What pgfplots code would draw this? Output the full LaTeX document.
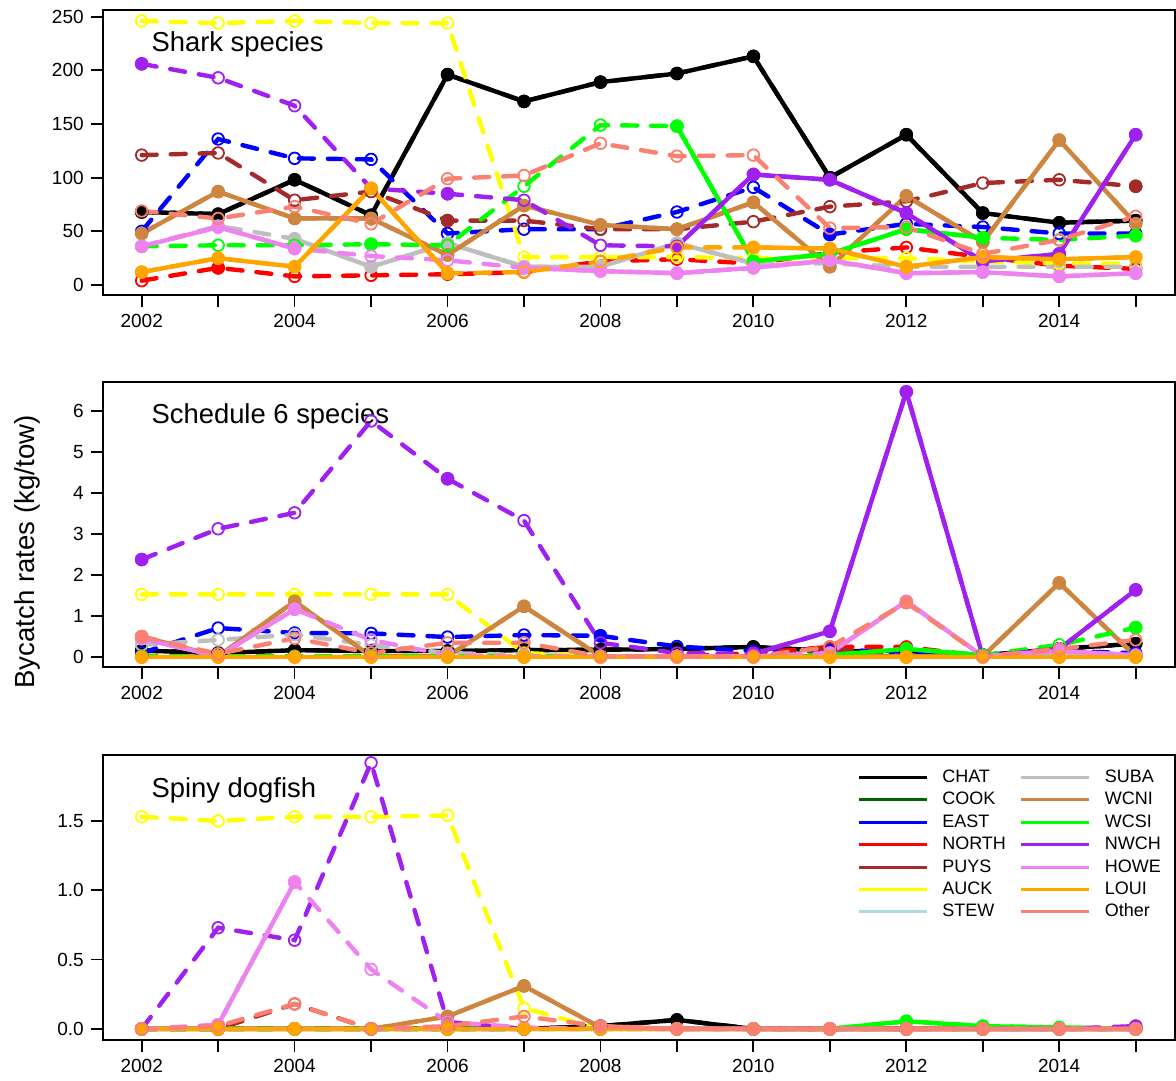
\documentclass[border=0pt]{standalone}
\usepackage{fontspec}
\setmainfont{Liberation Sans}
\usepackage{pgfplots}
\usepackage{pgfplotstable}
\pgfplotsset{compat=1.18}

\definecolor{cCHAT}{HTML}{000000}
\definecolor{cCOOK}{HTML}{006400}
\definecolor{cEAST}{HTML}{0000FF}
\definecolor{cNORTH}{HTML}{FF0000}
\definecolor{cPUYS}{HTML}{A52A2A}
\definecolor{cAUCK}{HTML}{FFFF00}
\definecolor{cSTEW}{HTML}{ADD8E6}
\definecolor{cSUBA}{HTML}{BEBEBE}
\definecolor{cWCNI}{HTML}{CD853F}
\definecolor{cWCSI}{HTML}{00FF00}
\definecolor{cNWCH}{HTML}{A020F0}
\definecolor{cHOWE}{HTML}{EE82EE}
\definecolor{cLOUI}{HTML}{FFA500}
\definecolor{cOther}{HTML}{FA8072}

% all rates (dashed line, open points)
\pgfplotstableread{
yr   CHAT EAST NORTH PUYS AUCK SUBA WCNI WCSI NWCH HOWE LOUI Other
2002  68   50   4    121  246  36   48   36   206  36   12   69
2003  66   136  16   123  244  55   87   37   193  54   25   62
2004  98   118  8    79   246  43   62   37   167  34   17   73
2005  65   117  9    87   244  17   62   38   90   27   90   57
2006  196  48   10   60   244  39   28   37   85   23   11   99
2007  171  52   12   60   26   17   74   92   79   16   12   102
2008  189  52   22   52   26   17   56   149  37   13   22   132
2009  197  68   24   52   26   39   52   148  36   11   35   120
2010  213  91   20   59   25   20   77   22   103  16   35   121
2011  100  47   30   73   25   20   17   29   98   23   34   53
2012  140  57   35   78   25   17   83   52   67   11   17   54
2013  67   54   26   95   22   17   40   44   22   12   26   29
2014  58   48   18   98   20   17   135  42   29   8    24   42
2015  60   48   15   92   20   17   57   46   140  11   26   64
}\sharkall
% rates from well sampled years (solid line, filled points)
\pgfplotstableread{
yr   CHAT EAST NORTH PUYS AUCK SUBA WCNI WCSI NWCH HOWE LOUI Other
2002  68   nan  nan  nan  nan  nan  48   nan  206  36   12   nan
2003  66   nan  16   nan  nan  nan  87   nan  nan  54   25   nan
2004  98   nan  nan  nan  nan  43   62   nan  nan  34   17   nan
2005  65   nan  nan  nan  nan  17   62   38   nan  nan  90   nan
2006  196  nan  nan  60   nan  39   28   nan  85   nan  11   nan
2007  171  nan  nan  nan  nan  17   74   nan  nan  16   nan  nan
2008  189  nan  nan  nan  nan  17   56   nan  nan  13   nan  nan
2009  197  nan  nan  nan  nan  39   52   148  36   11   nan  nan
2010  213  nan  nan  nan  nan  20   77   22   103  16   35   nan
2011  100  47   nan  nan  nan  nan  17   29   98   23   34   nan
2012  140  nan  nan  nan  nan  nan  83   52   67   11   17   nan
2013  67   nan  nan  nan  nan  nan  40   44   22   12   26   nan
2014  58   nan  nan  nan  nan  nan  135  nan  29   8    24   nan
2015  60   nan  nan  92   nan  nan  57   46   140  11   26   nan
}\sharkok

\pgfplotstableread{
yr   CHAT EAST NORTH PUYS AUCK SUBA WCNI WCSI NWCH HOWE LOUI Other
2002 0.16 0.10 0.02 0.02 1.53 0.30 0.50 0.02 2.38 0.45 0    0.50
2003 0.10 0.71 0.02 0.02 1.53 0.42 0.02 0.02 3.13 0.02 0    0.08
2004 0.17 0.59 0.02 0.02 1.53 0.55 1.36 0.02 3.52 1.17 0    0.46
2005 0.15 0.58 0.02 0.02 1.53 0.30 0.02 0.02 5.76 0.42 0    0.10
2006 0.15 0.49 0.02 0.02 1.53 0.10 0.02 0.02 4.35 0.05 0    0.35
2007 0.17 0.54 0.02 0.02 0.10 0.05 1.24 0.02 3.33 0.02 0    0.35
2008 0.18 0.52 0.02 0.02 0.02 0.02 0.02 0.02 0.35 0.02 0    0.02
2009 0.20 0.26 0.02 0.02 0.02 0.02 0.02 0.02 0.10 0.02 0    0.02
2010 0.25 0.15 0.10 0.02 0.02 0.02 0.02 0.02 0.08 0.02 0    0.02
2011 0.15 0.20 0.25 0.20 0.02 0.02 0.02 0.05 0.63 0.10 0    0.25
2012 0.15 0.10 0.25 0.02 0.02 0.02 0.02 0.20 6.47 1.36 0    1.33
2013 0.05 0.05 0.02 0.02 0.02 0.02 0.02 0.05 0.02 0.02 0    0.02
2014 0.20 0.15 0.02 0.02 0.02 0.02 1.81 0.30 0.20 0.15 0    0.20
2015 0.33 0.10 0.02 0.02 0.02 0.02 0.02 0.72 1.64 0.05 0    0.42
}\schedall
\pgfplotstableread{
yr   CHAT EAST NORTH PUYS AUCK SUBA WCNI WCSI NWCH HOWE LOUI Other
2002 0.16 nan  nan   nan  nan  nan  0.50 nan  2.38 0.45 0    0.50
2003 0.10 nan  nan   nan  nan  nan  0.02 nan  nan  0.02 0    nan
2004 0.17 nan  nan   nan  nan  nan  1.36 nan  nan  1.17 0    nan
2005 0.15 nan  nan   nan  nan  nan  0.02 nan  nan  nan  0    nan
2006 0.15 nan  nan   nan  nan  nan  0.02 nan  4.35 nan  0    nan
2007 0.17 nan  nan   nan  nan  nan  1.24 nan  nan  nan  0    nan
2008 0.18 0.52 nan   nan  nan  nan  0.02 nan  nan  nan  0    nan
2009 0.20 nan  nan   nan  nan  nan  0.02 nan  nan  nan  0    nan
2010 0.25 nan  nan   nan  nan  nan  0.02 nan  0.08 nan  0    nan
2011 0.15 0.20 nan   nan  nan  nan  0.02 0.05 0.63 0.10 0    nan
2012 0.15 nan  nan   nan  nan  nan  0.02 0.20 6.47 1.36 0    1.33
2013 0.05 nan  nan   nan  nan  nan  0.02 0.05 0.02 0.02 0    nan
2014 0.20 nan  nan   nan  nan  nan  1.81 nan  0.20 0.15 0    nan
2015 0.33 nan  nan   nan  nan  nan  0.02 0.72 1.64 0.05 0    nan
}\schedok

\pgfplotstableread{
yr   CHAT  EAST NORTH PUYS AUCK SUBA WCNI WCSI  NWCH HOWE LOUI Other
2002 0     0    0     0    1.53 0    0    0     0    0    0    0
2003 0     0    0     0    1.50 0    0    0     0.73 0.03 0    0.02
2004 0     0    0     0.18 1.53 0    0    0     0.64 1.06 0    0.18
2005 0     0    0     0    1.53 0    0    0     1.92 0.43 0    0
2006 0     0    0     0    1.54 0    0.09 0     0.05 0.05 0    0.02
2007 0     0    0     0    0.15 0    0.31 0     0    0.01 0    0.09
2008 0.02  0    0     0    0    0    0.01 0     0    0    0    0.02
2009 0.065 0    0     0    0    0    0    0     0    0    0    0
2010 0     0    0     0    0    0    0    0     0    0    0    0
2011 0     0    0     0    0    0    0    0     0    0    0    0
2012 0     0    0     0    0    0    0    0.055 0    0    0    0
2013 0     0    0     0    0    0    0    0.02  0    0    0    0
2014 0     0    0     0    0    0    0    0.01  0    0    0    0
2015 0     0    0     0    0    0    0    0     0.02 0    0    0
}\dogall
\pgfplotstableread{
yr   CHAT  EAST NORTH PUYS AUCK SUBA WCNI WCSI  NWCH HOWE LOUI Other
2002 0     nan  nan   nan  nan  nan  0    nan   nan  nan  0    nan
2003 0     nan  nan   nan  nan  nan  0    nan   nan  0.03 0    nan
2004 0     nan  nan   nan  nan  nan  0    nan   nan  1.06 0    nan
2005 0     nan  nan   nan  nan  nan  0    nan   nan  nan  0    nan
2006 0     nan  nan   nan  nan  nan  0.09 nan   nan  nan  0    nan
2007 0     nan  nan   nan  nan  nan  0.31 nan   nan  nan  0    nan
2008 0.02  nan  nan   nan  nan  nan  0.01 nan   nan  nan  0    0.02
2009 0.065 nan  nan   nan  nan  nan  0    nan   nan  nan  0    0
2010 0     nan  nan   nan  nan  nan  0    nan   nan  nan  0    0
2011 0     nan  nan   nan  nan  nan  0    0     nan  nan  0    0
2012 0     nan  nan   nan  nan  nan  0    0.055 nan  nan  0    0
2013 0     nan  nan   nan  nan  nan  0    0.02  nan  nan  0    0
2014 0     nan  nan   nan  nan  nan  0    0.01  nan  nan  0    0
2015 0     nan  nan   nan  nan  nan  0    0     0.02 nan  0    0
}\dogok

% one area: dashed line + open points over all years, solid line + filled points where sampled well
\newcommand{\drawser}[3]{%
  \addplot[forget plot, c#3, line width=2.2pt, line cap=round, dash pattern=on 7.5pt off 7pt]
    table[x=yr, y=#3]{#1};
  \addplot[forget plot, c#3, line width=2.2pt, line join=round, unbounded coords=jump]
    table[x=yr, y=#3]{#2};
  \addplot[forget plot, c#3, only marks, mark=o, mark size=2.9pt, mark options={line width=0.9pt}]
    table[x=yr, y=#3]{#1};
  \addplot[forget plot, c#3, only marks, mark=*, mark size=3.2pt]
    table[x=yr, y=#3]{#2};
}
\newcommand{\drawall}[2]{%
  \drawser{#1}{#2}{CHAT}\drawser{#1}{#2}{EAST}\drawser{#1}{#2}{NORTH}%
  \drawser{#1}{#2}{PUYS}\drawser{#1}{#2}{AUCK}\drawser{#1}{#2}{SUBA}%
  \drawser{#1}{#2}{WCNI}\drawser{#1}{#2}{WCSI}\drawser{#1}{#2}{NWCH}%
  \drawser{#1}{#2}{HOWE}\drawser{#1}{#2}{LOUI}\drawser{#1}{#2}{Other}%
}

\pgfplotsset{
  panel/.style={
    scale only axis, width=536pt, height=142.5pt,
    xmin=2001.49, xmax=2015.51,
    xtick={2002,...,2015},
    xticklabels={2002,,2004,,2006,,2008,,2010,,2012,,2014,},
    tick pos=left, tick align=outside, major tick length=6pt,
    axis line style={line width=0.9pt},
    every tick/.style={black, line width=0.9pt},
    tick label style={font=\fontsize{9.5}{11}\selectfont},
    /pgf/number format/assume math mode=true,
    anchor=south west,
  },
}
\tikzset{ptitle/.style={anchor=west, font=\fontsize{13.7}{16}\selectfont}}

\begin{document}
\begin{tikzpicture}
\useasboundingbox (0,0) rectangle (588pt,540pt);

\begin{axis}[panel, at={(51.35pt,392.5pt)}, ymin=-9.3, ymax=256.2, ytick={0,50,...,250}]
  \drawall{\sharkall}{\sharkok}
  \node[ptitle] at (rel axis cs:0.039,0.879) {Shark species};
\end{axis}

\begin{axis}[panel, at={(51.35pt,206.5pt)}, ymin=-0.24, ymax=6.71, ytick={0,...,6}]
  \drawall{\schedall}{\schedok}
  \node[ptitle] at (rel axis cs:0.039,0.879) {Schedule 6 species};
\end{axis}

\begin{axis}[panel, at={(51.35pt,20pt)}, ymin=-0.08, ymax=1.976,
  ytick={0,0.5,1,1.5}, yticklabels={0.0,0.5,1.0,1.5},
  legend columns=2, legend cell align=left,
  legend image code/.code={\draw[#1] (0pt,0pt) -- (34pt,0pt);},
  legend style={at={(rel axis cs:0.7035,0.962)}, anchor=north west, draw=none, fill=none,
    inner sep=0pt, column sep=3pt, row sep=0pt,
    font=\fontsize{9}{11}\selectfont,
    nodes={text height=7pt, text depth=2pt, inner ysep=1.1pt, inner xsep=4pt}}]
  \drawall{\dogall}{\dogok}
  \node[ptitle] at (rel axis cs:0.039,0.877) {Spiny dogfish};
  \addlegendimage{cCHAT, line width=1.5pt}\addlegendentry{CHAT}
  \addlegendimage{cSUBA, line width=1.5pt}\addlegendentry{SUBA}
  \addlegendimage{cCOOK, line width=1.5pt}\addlegendentry{COOK}
  \addlegendimage{cWCNI, line width=1.5pt}\addlegendentry{WCNI}
  \addlegendimage{cEAST, line width=1.5pt}\addlegendentry{EAST}
  \addlegendimage{cWCSI, line width=1.5pt}\addlegendentry{WCSI}
  \addlegendimage{cNORTH, line width=1.5pt}\addlegendentry{NORTH}
  \addlegendimage{cNWCH, line width=1.5pt}\addlegendentry{NWCH}
  \addlegendimage{cPUYS, line width=1.5pt}\addlegendentry{PUYS}
  \addlegendimage{cHOWE, line width=1.5pt}\addlegendentry{HOWE}
  \addlegendimage{cAUCK, line width=1.5pt}\addlegendentry{AUCK}
  \addlegendimage{cLOUI, line width=1.5pt}\addlegendentry{LOUI}
  \addlegendimage{cSTEW, line width=1.5pt}\addlegendentry{STEW}
  \addlegendimage{cOther, line width=1.5pt}\addlegendentry{Other}
\end{axis}

\node[rotate=90, font=\fontsize{13.8}{16}\selectfont] at (13.5pt,264pt) {Bycatch rates (kg/tow)};
\end{tikzpicture}
\end{document}
